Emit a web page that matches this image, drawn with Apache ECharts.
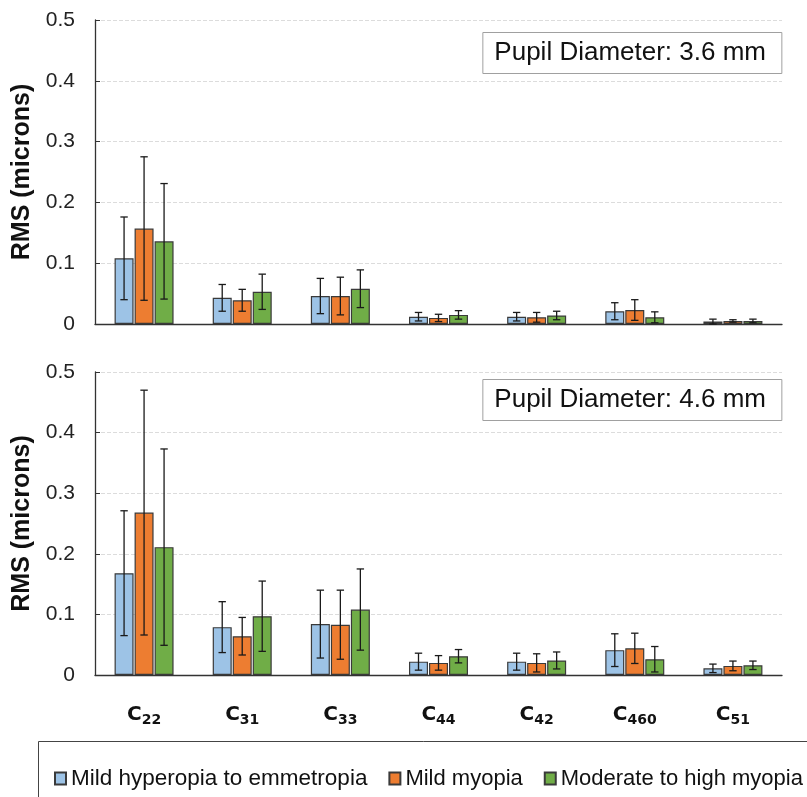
<!DOCTYPE html>
<html>
<head>
<meta charset="utf-8">
<script src="https://cdn.jsdelivr.net/npm/echarts@6/dist/echarts.min.js"></script>
<style>
  html, body { margin: 0; padding: 0; background: #fff; }
  #chart { width: 807px; height: 797px; }
</style>
</head>
<body>
<div id="chart"></div>
<script>
const subscripts = ['22', '31', '33', '44', '42', '460', '51'];
const categories = subscripts.map(s => 'C' + s);
const seriesNames = ['Mild hyperopia to emmetropia', 'Mild myopia', 'Moderate to high myopia'];
const colors = ['#9DC3E6', '#ED7D31', '#70AD47'];
const panelLabels = ['Pupil Diameter: 3.6 mm', 'Pupil Diameter: 4.6 mm'];

// 3.6 mm pupil
const top36Hyperopia = [0.108, 0.043, 0.046, 0.012, 0.012, 0.021, 0.004];
const top36MildMyopia = [0.157, 0.039, 0.046, 0.010, 0.011, 0.023, 0.005];
const top36HighMyopia = [0.136, 0.053, 0.058, 0.015, 0.014, 0.011, 0.005];
const sd36Hyperopia = [0.068, 0.022, 0.029, 0.007, 0.007, 0.014, 0.004];
const sd36MildMyopia = [0.118, 0.018, 0.031, 0.006, 0.008, 0.017, 0.002];
const sd36HighMyopia = [0.095, 0.029, 0.031, 0.007, 0.007, 0.009, 0.003];

// 4.6 mm pupil
const bot46Hyperopia = [0.168, 0.079, 0.084, 0.022, 0.022, 0.041, 0.011];
const bot46MildMyopia = [0.268, 0.064, 0.083, 0.020, 0.020, 0.044, 0.015];
const bot46HighMyopia = [0.211, 0.097, 0.108, 0.031, 0.024, 0.026, 0.016];
const sd46Hyperopia = [0.103, 0.042, 0.056, 0.014, 0.014, 0.027, 0.007];
const sd46MildMyopia = [0.202, 0.031, 0.057, 0.012, 0.015, 0.025, 0.008];
const sd46HighMyopia = [0.162, 0.058, 0.067, 0.011, 0.014, 0.021, 0.007];

const yTicks = [0, 0.1, 0.2, 0.3, 0.4, 0.5];

const panels = [
  { means: [top36Hyperopia, top36MildMyopia, top36HighMyopia], sds: [sd36Hyperopia, sd36MildMyopia, sd36HighMyopia] },
  { means: [bot46Hyperopia, bot46MildMyopia, bot46HighMyopia], sds: [sd46Hyperopia, sd46MildMyopia, sd46HighMyopia] },
];

const BAR_W = 19;
const BAR_GAP = 1;
const CAP = 3.7;

function errorRender(offset) {
  return function (params, api) {
    const idx = api.value(0);
    const lo = api.coord([idx, api.value(1)]);
    const hi = api.coord([idx, api.value(2)]);
    const x = lo[0] + offset;
    const style = { stroke: '#1a1a1a', lineWidth: 1.3 };
    return {
      type: 'group',
      children: [
        { type: 'line', shape: { x1: x, y1: lo[1], x2: x, y2: hi[1] }, style },
        { type: 'line', shape: { x1: x - CAP, y1: hi[1], x2: x + CAP, y2: hi[1] }, style },
        { type: 'line', shape: { x1: x - CAP, y1: lo[1], x2: x + CAP, y2: lo[1] }, style },
      ],
    };
  };
}

const series = [];
panels.forEach((p, pi) => {
  p.means.forEach((vals, si) => {
    series.push({
      name: seriesNames[si],
      type: 'bar',
      xAxisIndex: pi,
      yAxisIndex: pi,
      data: vals,
      barWidth: BAR_W,
      barGap: (BAR_GAP / BAR_W * 100) + '%',
      itemStyle: { color: colors[si], borderColor: '#3a3a3a', borderWidth: 1.2 },
      emphasis: { disabled: true },
    });
  });
  p.means.forEach((vals, si) => {
    const offset = (si - 1) * (BAR_W + BAR_GAP);
    series.push({
      type: 'custom',
      xAxisIndex: pi,
      yAxisIndex: pi,
      renderItem: errorRender(offset),
      data: vals.map((v, i) => [i, Math.max(0, v - p.sds[si][i]), v + p.sds[si][i]]),
      z: 5,
      silent: true,
    });
  });
});

const grids = [
  { left: 95, right: 25, top: 20, height: 304 },
  { left: 95, right: 25, top: 372, height: 303 },
];

const chart = echarts.init(document.getElementById('chart'));
chart.setOption({
  animation: false,
  textStyle: { fontFamily: 'Liberation Sans, Arial, sans-serif' },
  title: panelLabels.map((t, i) => ({
    text: t,
    right: 25,
    top: i === 0 ? 32 : 379,
    borderWidth: 1,
    borderColor: '#a0a0a0',
    padding: [8, 16, 8, 12],
    textStyle: { fontSize: 26, fontWeight: 'normal', color: '#111', fontFamily: 'Liberation Sans, Arial, sans-serif' },
  })),
  grid: grids,
  xAxis: grids.map((g, i) => ({
    type: 'category',
    gridIndex: i,
    data: categories,
    axisLine: { lineStyle: { color: '#333', width: 1.3 } },
    axisTick: { show: false },
    axisLabel: i === 0 ? { show: false } : {
      margin: 28,
      formatter: (v, idx) => `{c|C}{s|${subscripts[idx]}}`,
      rich: {
        c: { fontSize: 20, fontWeight: 'bold', fontFamily: 'DejaVu Sans', color: '#111' },
        s: { fontSize: 14, fontWeight: 'bold', fontFamily: 'DejaVu Sans', color: '#111', padding: [10, 0, 0, 0] },
      },
    },
  })),
  yAxis: grids.map((g, i) => ({
    type: 'value',
    gridIndex: i,
    min: yTicks[0],
    max: yTicks[yTicks.length - 1],
    interval: 0.1,
    name: 'RMS (microns)',
    nameLocation: 'middle',
    nameGap: 54,
    nameTextStyle: { fontSize: 25, fontWeight: 'bold', color: '#111' },
    axisLine: { show: true, lineStyle: { color: '#333', width: 1.3 } },
    axisTick: { show: true, inside: true, length: 5, lineStyle: { color: '#333' } },
    axisLabel: {
      fontSize: 21,
      color: '#222',
      margin: 20,
      formatter: v => (v === 0 ? '0' : String(+v.toFixed(1))),
    },
    splitLine: { lineStyle: { color: '#dcdcdc', type: 'dashed', width: 1 } },
  })),
  legend: {
    data: seriesNames.map((n, i) => (i === 0 ? n : { name: n, textStyle: { fontSize: 22 } })),
    left: 49,
    top: 762,
    width: 900,
    itemWidth: 11,
    itemHeight: 12,
    itemGap: 21,
    icon: 'rect',
    textStyle: { fontSize: 22.5, color: '#111', fontFamily: 'Liberation Sans, Arial, sans-serif' },
  },
  graphic: [
    { type: 'rect', shape: { x: 38.5, y: 741.5, width: 800, height: 80 }, style: { fill: 'none', stroke: '#444', lineWidth: 1 }, silent: true },
  ],
  series,
});
</script>
</body>
</html>
